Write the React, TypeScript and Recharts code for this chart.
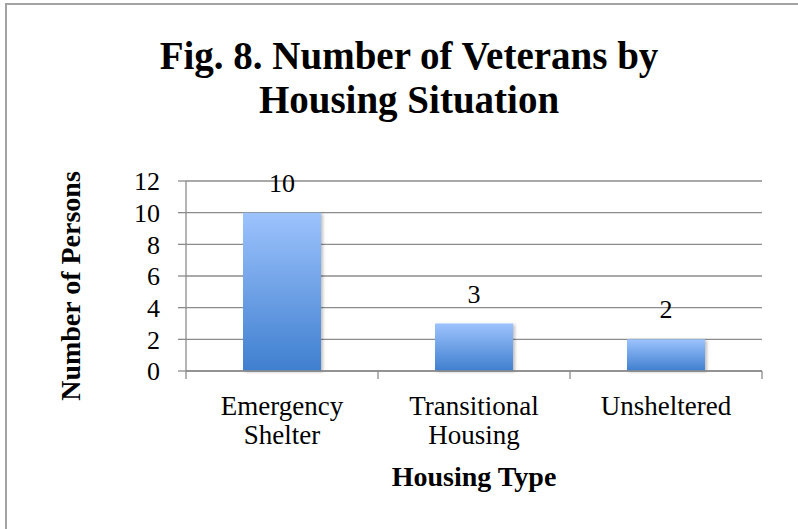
import React from "react"
import { BarChart, Bar, XAxis, YAxis, CartesianGrid, LabelList, Label } from "recharts"

const categories = ["Emergency Shelter", "Transitional Housing", "Unsheltered"]
const persons = [10, 3, 2]
const yTicks = [0, 2, 4, 6, 8, 10, 12]
const tickLines: Record<string, string[]> = {
  "Emergency Shelter": ["Emergency", "Shelter"],
  "Transitional Housing": ["Transitional", "Housing"],
  "Unsheltered": ["Unsheltered"],
}

const data = categories.map((name, i) => ({ name, value: persons[i] }))

const FONT = "'Liberation Serif', 'Times New Roman', serif"
const GRAY = "#8c8c8c"

// category labels on two lines, with the tick marks between the bands (Excel style)
function CategoryTick({ x, y, payload, index, width, visibleTicksCount }: any) {
  const lines = tickLines[payload.value] || [payload.value]
  const half = width / visibleTicksCount / 2
  return (
    <g>
      {index === 0 && <line x1={x - half} x2={x - half} y1={y} y2={y + 8} stroke={GRAY} strokeWidth={1.3} />}
      <line x1={x + half} x2={x + half} y1={y} y2={y + 8} stroke={GRAY} strokeWidth={1.3} />
      {lines.map((l, i) => (
        <text key={i} x={x} y={y + 44 + i * 29} textAnchor="middle" fill="#000" fontSize={27} fontFamily={FONT}>
          {l}
        </text>
      ))}
    </g>
  )
}

export default function App() {
  return (
    <div style={{ position: "fixed", left: 0, top: 0, width: 798, height: 529, overflow: "hidden", background: "#fff" }}>
      <div
        style={{
          position: "absolute",
          left: 5,
          top: 3,
          width: 900,
          height: 900,
          border: "2px solid #a3a3a3",
        }}
      />
      <svg width={798} height={529} style={{ position: "absolute", left: 0, top: 0 }}>
        <text x={409} y={69} textAnchor="middle" fontFamily={FONT} fontWeight="bold" fontSize={39} fill="#000">
          Fig. 8. Number of Veterans by
        </text>
        <text x={409} y={113} textAnchor="middle" fontFamily={FONT} fontWeight="bold" fontSize={39} fill="#000">
          Housing Situation
        </text>
      </svg>
      <div style={{ position: "absolute", left: 0, top: 0 }}>
        <BarChart width={798} height={529} data={data} margin={{ top: 181, right: 36, left: 0, bottom: 63 }}>
          <defs>
            <linearGradient id="barFill" x1="0" y1="0" x2="0" y2="1">
              <stop offset="0%" stopColor="#9dc3fd" />
              <stop offset="100%" stopColor="#3f7fcf" />
            </linearGradient>
            <filter id="barShadow" x="-10%" y="-10%" width="130%" height="130%">
              <feDropShadow dx="2" dy="1" stdDeviation="1.5" floodColor="#000" floodOpacity="0.25" />
            </filter>
          </defs>
          <CartesianGrid vertical={false} stroke={GRAY} strokeWidth={1.3} />
          <XAxis
            dataKey="name"
            height={95}
            stroke={GRAY}
            strokeWidth={1.3}
            tickLine={false}
            tickSize={0}
            tickMargin={0}
            interval={0}
            tick={<CategoryTick />}
          >
            <Label
              content={({ viewBox }: any) => (
                <text
                  x={viewBox.x + viewBox.width / 2}
                  y={viewBox.y + 115}
                  textAnchor="middle"
                  fontFamily={FONT}
                  fontWeight="bold"
                  fontSize={28}
                  fill="#000"
                >
                  Housing Type
                </text>
              )}
            />
          </XAxis>
          <YAxis
            width={186}
            domain={[0, 12]}
            ticks={yTicks}
            interval={0}
            tickSize={8}
            tickMargin={18}
            stroke={GRAY}
            strokeWidth={1.3}
            tick={{ fill: "#000", fontSize: 26, fontFamily: FONT }}
          >
            <Label
              content={({ viewBox }: any) => {
                const cx = 80
                const cy = viewBox.y + viewBox.height / 2 + 10
                return (
                  <text
                    x={cx}
                    y={cy}
                    transform={`rotate(-90 ${cx} ${cy})`}
                    textAnchor="middle"
                    fontFamily={FONT}
                    fontWeight="bold"
                    fontSize={28}
                    fill="#000"
                  >
                    Number of Persons
                  </text>
                )
              }}
            />
          </YAxis>
          <Bar dataKey="value" barSize={78} fill="url(#barFill)" filter="url(#barShadow)" isAnimationActive={false}>
            <LabelList dataKey="value" position="top" offset={21} fill="#000" fontSize={26} fontFamily={FONT} />
          </Bar>
        </BarChart>
      </div>
    </div>
  )
}
